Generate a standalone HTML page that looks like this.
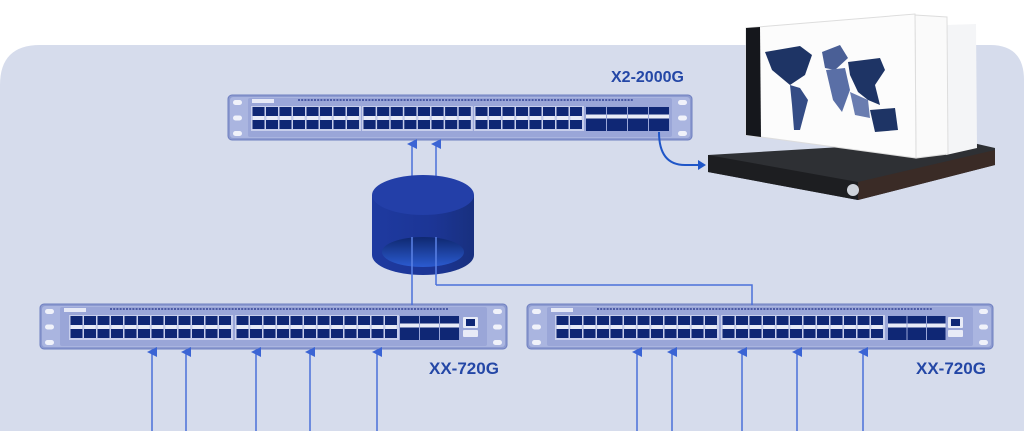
<!DOCTYPE html>
<html><head><meta charset="utf-8"><style>
html,body{margin:0;padding:0;background:#fff;width:1024px;height:431px;overflow:hidden}
svg{display:block}
text{font-family:"Liberation Sans",sans-serif;font-weight:bold;fill:#2447a6}
</style></head><body>
<svg id="s" width="1024" height="431" viewBox="0 0 1024 431" xmlns="http://www.w3.org/2000/svg">
<defs>
<linearGradient id="cyl" x1="0" x2="1"><stop offset="0" stop-color="#1e3aa0"/><stop offset="0.6" stop-color="#1c3595"/><stop offset="1" stop-color="#18307f"/></linearGradient>
<linearGradient id="hole" x1="0" y1="0" x2="0" y2="1"><stop offset="0" stop-color="#0f2870"/><stop offset="1" stop-color="#2b5bd0"/></linearGradient>
<marker id="ar" markerWidth="10" markerHeight="10" refX="5" refY="5" orient="auto" markerUnits="userSpaceOnUse"><path d="M0,10 L5,0 L10,10 Z" fill="#3b64d4"/></marker>
</defs>
<path d="M40,45 H990 Q1024,45 1024,80 V431 H0 V85 Q0,45 40,45 Z" fill="#d6dcec"/>
<g id="g"></g>
<g stroke="#4a70da" stroke-width="1.5" fill="none">
<line x1="412" y1="305" x2="412" y2="144" marker-end="url(#ar)"/>
<line x1="436" y1="285" x2="436" y2="144" marker-end="url(#ar)"/>
<polyline points="436,285 752,285 752,305"/>
</g>
<path d="M372,195 V255 A51,20 0 0 0 474,255 V195 Z" fill="url(#cyl)"/>
<ellipse cx="423" cy="195" rx="51" ry="20" fill="#233fa8"/>
<ellipse cx="423" cy="252" rx="41" ry="15" fill="url(#hole)"/>
<g stroke="#5b82e6" stroke-width="1.5"><line x1="412" y1="237" x2="412" y2="280"/><line x1="436" y1="237" x2="436" y2="280"/></g>
<text x="611" y="82" font-size="16">X2-2000G</text>
<text x="429" y="374" font-size="17">XX-720G</text>
<text x="916" y="374" font-size="17">XX-720G</text>
<path d="M659,132 Q659,165 685,165 L700,165" stroke="#1f56c8" stroke-width="2" fill="none"/>
<path d="M698,160 L706,165 L698,170 Z" fill="#1f56c8"/>
<path d="M708,155 L960,140 L995,148 L995,165 L858,200 L708,172 Z" fill="#2e3034"/>
<path d="M708,155 L858,182 L858,200 L708,172 Z" fill="#1d1e21"/>
<path d="M858,182 L995,150 L995,165 L858,200 Z" fill="#3a2b26"/>
<circle cx="853" cy="190" r="6" fill="#cfd3db"/>
<path d="M946,25 L976,24 L977,148 L946,155 Z" fill="#f4f5f7"/>
<path d="M915,15 L947,17 L948,154 L916,158 Z" fill="#fafafa" stroke="#ddd"/>
<path d="M746,28 L915,14 L916,158 L746,135 Z" fill="#fcfcfc" stroke="#ddd"/>
<path d="M746,28 L760,27 L761,137 L746,135 Z" fill="#15171c"/>
<g fill="#1e3465">
<path d="M765,52 L800,46 L812,55 L805,75 L790,85 L772,70 Z"/>
<path d="M790,85 L800,88 L808,100 L800,130 L794,130 L792,105 Z" fill="#344c85"/>
<path d="M822,52 L840,45 L848,58 L835,70 L825,68 Z" fill="#4a5f96"/>
<path d="M826,70 L845,68 L850,90 L842,112 L833,100 Z" fill="#5a6fa6"/>
<path d="M848,62 L880,58 L885,70 L875,85 L880,105 L868,100 L858,92 L850,75 Z"/>
<path d="M870,110 L895,108 L898,130 L875,132 Z"/>
<path d="M850,92 L868,100 L870,118 L855,115 Z" fill="#6a7db0"/>
</g>
</svg>
<script>
const g=document.getElementById('g');const NS='http://www.w3.org/2000/svg';
function r(x,y,w,h,f,rx,st){const e=document.createElementNS(NS,'rect');e.setAttribute('x',x);e.setAttribute('y',y);e.setAttribute('width',w);e.setAttribute('height',h);e.setAttribute('fill',f);if(rx)e.setAttribute('rx',rx);if(st){e.setAttribute('stroke',st);e.setAttribute('stroke-width',1);}g.appendChild(e);}
function sw(x,y,w,h,groups,big,rj){
 r(x,y,w,h,'#8d9bd0',4,'#6f7fc0');
 r(x+2,y+2,w-4,h-4,'#aab5e0',3);
 for(let i=0;i<3;i++){r(x+5,y+5+i*(h-14)/2,9,5,'#f0f2fa',2.5);r(x+w-14,y+5+i*(h-14)/2,9,5,'#f0f2fa',2.5);}
 r(x+20,y+3,w-40,h-6,'#9aa6d8',2);
 for(let xx=x+70;xx<x+w-60;xx+=3.2)r(xx,y+4,2,2,'#4b5aa5');
 r(x+24,y+4,22,4,'#e6e9f6');
 groups.forEach(([gx,n,pw])=>{
  r(gx-1,y+11,n*pw+2,h-20,'#c8cfec');
  for(let i=0;i<n;i++){r(gx+i*pw+0.5,y+12,pw-1.5,9,'#0f2775');r(gx+i*pw+0.5,y+h-20,pw-1.5,9,'#0f2775');
   r(gx+i*pw+1,y+21,pw-2.5,y+h-20-(y+21),'#e8ebf7');}
 });
 if(big){const[bx,n,pw]=big;for(let i=0;i<n;i++){r(bx+i*pw,y+12,pw-1,h-21,'#0f2775');r(bx+i*pw,y+h/2-3,pw-1,4,'#e8ebf7');}}
 if(rj){r(rj,y+13,15,11,'#e8ebf7',1);r(rj+3,y+15,9,7,'#0f2775');r(rj,y+26,15,7,'#e8ebf7',1);}
}
sw(228,95,464,45,[[252,8,13.5],[363,8,13.6],[475,8,13.5]],[586,4,21],null);
sw(40,304,467,45,[[70,12,13.5],[236,12,13.5]],[400,3,20],463);
sw(527,304,466,45,[[556,12,13.5],[722,12,13.5]],[888,3,19.5],948);
const s=document.getElementById('s');
[152,186,256,310,377,637,672,742,797,863].forEach(x=>{const l=document.createElementNS(NS,'line');l.setAttribute('x1',x);l.setAttribute('x2',x);l.setAttribute('y1',431);l.setAttribute('y2',352);l.setAttribute('stroke','#4a70da');l.setAttribute('stroke-width',1.5);l.setAttribute('marker-end','url(#ar)');s.appendChild(l);});
</script>
</body></html>
